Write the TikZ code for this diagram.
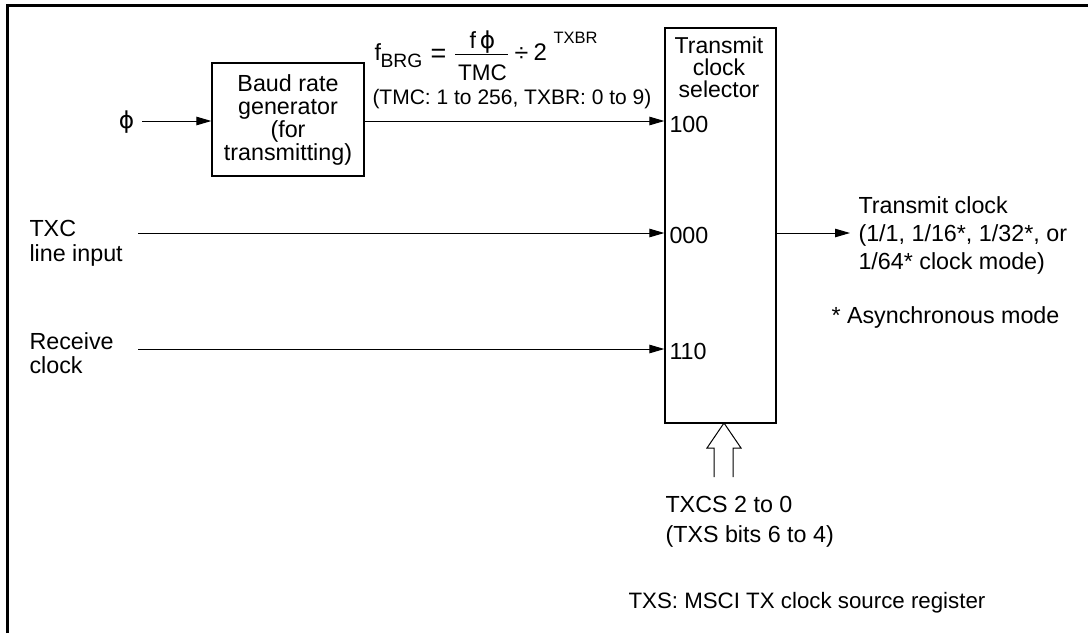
\documentclass[tikz,border=0pt]{standalone}
\usepackage{fontspec}
\setmainfont{Liberation Sans}
\newfontfamily\phifont{DejaVu Sans}
\usetikzlibrary{arrows.meta}
\newcommand{\myphi}{{\phifont ϕ}}
\begin{document}
\begin{tikzpicture}[x=1pt,y=-1pt,line width=1pt,
  fs/.style={font=\fontsize{#1}{#1}\selectfont},
  txt/.style={inner sep=0pt,font=\fontsize{23.3}{23.3}\selectfont},
  lbl/.style={txt,anchor=base west},
  arr/.style={-{Triangle[length=15pt,width=8.5pt]}},
  box/.style={draw,line width=1.3pt,inner sep=0pt}]
\useasboundingbox (0,0) rectangle (1088,633);
% frame
\draw[line width=3pt] (7.5,633) -- (7.5,5.5) -- (1088,5.5);
% boxes
\node[box,minimum width=152pt,minimum height=113pt,align=center,
      font=\fontsize{23.3}{23}\selectfont] (brg) at (288,119.5)
      {Baud rate\\generator\\(for\\transmitting)};
\node[box,minimum width=111pt,minimum height=395pt] (sel) at (720.5,225.5) {};
\node[txt,anchor=north,align=center,font=\fontsize{23}{22}\selectfont]
      (seltxt) at (719,36) {Transmit\\clock\\selector};
% input labels in the selector
\node[lbl] (i100) at (669,132) {100};
\node[lbl] (i000) at (669,243) {000};
\node[lbl] (i110) at (669,359) {110};
% phi input
\node[txt] (phi) at (126.5,122.5) {\myphi};
\coordinate (phiout) at (142,121);
\draw[arr] (phiout) -- (phiout -| brg.west);
\draw[arr] (brg.east |- phiout) -- (phiout -| sel.west);
% formula
\node[lbl] (ff) at (374,60) {f};
\node[lbl,fs=19.3] (fbrg) at (380,67.5) {BRG};
\node[lbl,fs=27] (feq) at (430,62.5) {=};
\coordinate (barl) at (455,54);
\coordinate (barr) at (508,54);
\draw (barl) -- (barr);
\node[txt,anchor=base] (fnum) at (482.5,48) {f\,\myphi};
\node[txt,anchor=base,fs=22.5] (fden) at (482.5,80) {TMC};
\node[lbl,fs=25] (fdiv) at (514,61.5) {÷};
\node[lbl,fs=24] (ftwo) at (533,60.7) {2};
\node[lbl,fs=16.5] (fexp) at (553,43.5) {TXBR};
\node[lbl,fs=21] (frange) at (372,104.5) {(TMC: 1 to 256, TXBR: 0 to 9)};
% TXC line input
\node[txt,anchor=north west,align=left,font=\fontsize{23.3}{25}\selectfont]
      (txc) at (29,219.5) {TXC\\line input};
\coordinate (txcin) at (138,233);
\draw[arr] (txcin) -- (txcin -| sel.west);
% receive clock
\node[txt,anchor=north west,align=left,font=\fontsize{23.3}{24}\selectfont]
      (rxc) at (29,332.5) {Receive\\clock};
\coordinate (rxcin) at (138,349);
\draw[arr] (rxcin) -- (rxcin -| sel.west);
% output
\coordinate (txout) at (850,233);
\draw[arr] (sel.east |- txout) -- (txout);
\node[txt,anchor=north west,align=left,font=\fontsize{23.3}{28}\selectfont]
      (txclk) at (858,196) {Transmit clock\\(1/1, 1/16*, 1/32*, or\\1/64* clock mode)};
\node[lbl] (async) at (831,323) {* Asynchronous mode};
% hollow arrow from register bits
\coordinate (hat) at (724,423);
\draw[line width=1pt,line join=miter]
  ([shift={(-10,54)}]hat) -- ([shift={(-10,25)}]hat)
  -- ([shift={(-17,25)}]hat) -- (hat)
  -- ([shift={(17,25)}]hat) -- ([shift={(9,25)}]hat)
  -- ([shift={(9,54)}]hat);
\node[txt,anchor=north west,align=left,font=\fontsize{23.3}{30}\selectfont]
      (txcs) at (665,495.5) {TXCS 2 to 0\\(TXS bits 6 to 4)};
\node[lbl,fs=22.3] (note) at (628,608) {TXS: MSCI TX clock source register};
\end{tikzpicture}
\end{document}
